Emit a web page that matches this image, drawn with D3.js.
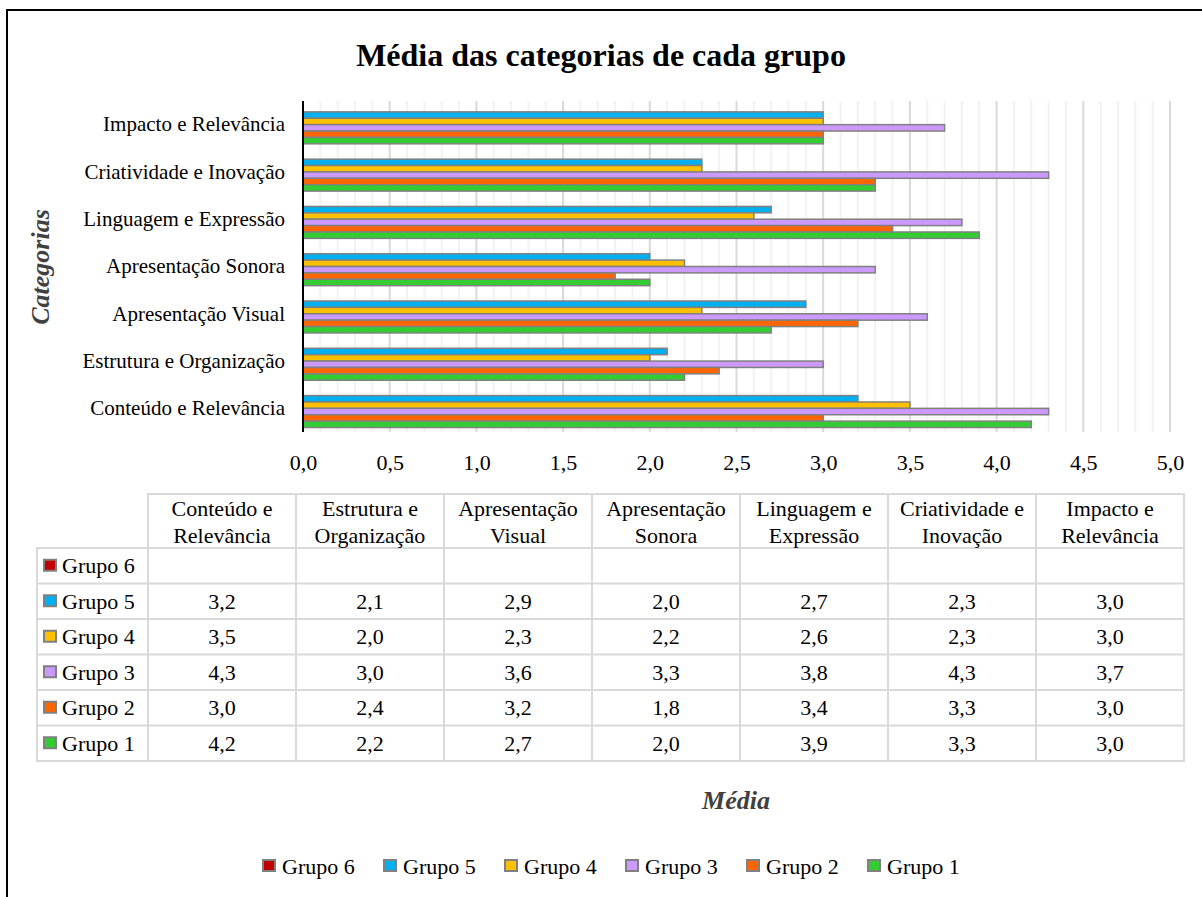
<!DOCTYPE html>
<html>
<head>
<meta charset="utf-8">
<script src="https://cdn.jsdelivr.net/npm/d3@7"></script>
<style>
    body { margin: 0; background: #fff; }
    svg text { font-family: "Liberation Serif", "Times New Roman", serif; fill: #000; }
</style>
</head>
<body>
<div id="chart"></div>
<script>
const categories = ["Conteúdo e Relevância", "Estrutura e Organização", "Apresentação Visual",
    "Apresentação Sonora", "Linguagem e Expressão", "Criatividade e Inovação", "Impacto e Relevância"];
const headerLines = [["Conteúdo e", "Relevância"], ["Estrutura e", "Organização"], ["Apresentação", "Visual"],
    ["Apresentação", "Sonora"], ["Linguagem e", "Expressão"], ["Criatividade e", "Inovação"], ["Impacto e", "Relevância"]];
const groups = ["Grupo 6", "Grupo 5", "Grupo 4", "Grupo 3", "Grupo 2", "Grupo 1"];
const grupo6 = [null, null, null, null, null, null, null];
const grupo5 = [3.2, 2.1, 2.9, 2.0, 2.7, 2.3, 3.0];
const grupo4 = [3.5, 2.0, 2.3, 2.2, 2.6, 2.3, 3.0];
const grupo3 = [4.3, 3.0, 3.6, 3.3, 3.8, 4.3, 3.7];
const grupo2 = [3.0, 2.4, 3.2, 1.8, 3.4, 3.3, 3.0];
const grupo1 = [4.2, 2.2, 2.7, 2.0, 3.9, 3.3, 3.0];
const xTicks = [0, 0.5, 1, 1.5, 2, 2.5, 3, 3.5, 4, 4.5, 5];

const groupValues = [grupo6, grupo5, grupo4, grupo3, grupo2, grupo1];
const groupColors = ["#C00000", "#00B0F0", "#FFC000", "#CC99FF", "#FF6600", "#33CC33"];

class BarChart {

    plot = { top: 101, bottom: 432, left: 303, right: 1170 }

    constructor(width = 1202, height = 897) {
        this.width = width;
        this.height = height;
    }

    initialize(divChartId) {
        this.div = d3.select(divChartId);
        this.fmt = d3.formatLocale({ decimal: ",", thousands: ".", grouping: [3], currency: ["", ""] }).format(".1f");
    }

    update() {
        const svg = this.div
            .html("")
            .append("svg")
            .attr("width", this.width)
            .attr("height", this.height);

        const p = this.plot;

        const x = d3.scaleLinear()
            .domain([0, 5])
            .range([p.left, p.right]);

        const y0 = d3.scaleBand()
            .domain(categories.slice().reverse())
            .range([p.top, p.bottom]);

        const y1 = d3.scaleBand()
            .domain(groups)
            .range([0, y0.bandwidth()])
            .paddingOuter(0.7);

        const color = d3.scaleOrdinal()
            .domain(groups)
            .range(groupColors);

        // moldura
        svg.append("path")
            .attr("d", `M7,${this.height} V10 H${this.width}`)
            .attr("fill", "none")
            .attr("stroke", "#000")
            .attr("stroke-width", 2);

        svg.append("text")
            .attr("x", 601)
            .attr("y", 66)
            .attr("text-anchor", "middle")
            .attr("font-size", 32)
            .attr("font-weight", "bold")
            .text("Média das categorias de cada grupo");

        // grade secundária e principal
        const minor = d3.range(0, 51).map(d => d / 10);
        svg.append("g")
            .selectAll("line")
            .data(minor)
            .enter().append("line")
            .attr("x1", d => x(d)).attr("x2", d => x(d))
            .attr("y1", p.top).attr("y2", p.bottom)
            .attr("stroke", (d, i) => i % 5 === 0 ? "#d9d9d9" : "#f2f2f2")
            .attr("stroke-width", 2);

        const bars = svg.append("g");
        bars.selectAll("g")
            .data(groups)
            .enter()
            .append("g")
            .selectAll("rect")
            .data((g, gi) => groupValues[gi].map((v, ci) => ({ group: g, cat: categories[ci], value: v }))
                .filter(d => d.value !== null))
            .enter().append("rect")
            .attr("x", x(0))
            .attr("y", d => y0(d.cat) + y1(d.group))
            .attr("width", d => x(d.value) - x(0))
            .attr("height", y1.bandwidth())
            .attr("fill", d => color(d.group))
            .attr("stroke", "#808080")
            .attr("stroke-width", 1.5);

        svg.append("line")
            .attr("x1", p.left).attr("x2", p.left)
            .attr("y1", p.top).attr("y2", p.bottom)
            .attr("stroke", "#000")
            .attr("stroke-width", 2);

        // rótulos das categorias
        const yAxis = svg.append("g")
            .attr("transform", `translate(${p.left - 18},0)`)
            .call(d3.axisLeft(y0).tickSize(0).tickPadding(0));
        yAxis.select(".domain").remove();
        yAxis.selectAll("text")
            .attr("font-size", 21)
            .attr("font-family", "Liberation Serif")
            .attr("fill", "#000");

        const xAxis = svg.append("g")
            .attr("transform", `translate(0,${p.bottom})`)
            .call(d3.axisBottom(x).tickValues(xTicks).tickSize(0).tickPadding(22).tickFormat(this.fmt));
        xAxis.select(".domain").remove();
        xAxis.selectAll("text")
            .attr("font-size", 22)
            .attr("font-family", "Liberation Serif")
            .attr("fill", "#000");

        svg.append("text")
            .attr("transform", "translate(49,267) rotate(-90)")
            .attr("text-anchor", "middle")
            .attr("font-size", 26)
            .attr("font-weight", "bold")
            .attr("font-style", "italic")
            .style("fill", "#404040")
            .text("Categorias");

        // tabela de dados
        const colW = 148, tLeft = 148, labelLeft = 37;
        const headTop = 494, rowTop = 548, rowH = 35.5;
        const table = svg.append("g");
        const grid = "#d9d9d9";

        table.append("rect")
            .attr("x", tLeft).attr("y", headTop)
            .attr("width", colW * categories.length).attr("height", rowTop - headTop)
            .attr("fill", "none").attr("stroke", grid).attr("stroke-width", 2);
        table.append("rect")
            .attr("x", labelLeft).attr("y", rowTop)
            .attr("width", tLeft + colW * categories.length - labelLeft).attr("height", rowH * groups.length)
            .attr("fill", "none").attr("stroke", grid).attr("stroke-width", 2);
        table.selectAll(".vline")
            .data(d3.range(0, categories.length))
            .enter().append("line")
            .attr("x1", i => tLeft + i * colW).attr("x2", i => tLeft + i * colW)
            .attr("y1", headTop).attr("y2", rowTop + rowH * groups.length)
            .attr("stroke", grid).attr("stroke-width", 2);
        table.selectAll(".hline")
            .data(d3.range(1, groups.length))
            .enter().append("line")
            .attr("x1", labelLeft).attr("x2", tLeft + colW * categories.length)
            .attr("y1", i => rowTop + i * rowH).attr("y2", i => rowTop + i * rowH)
            .attr("stroke", grid).attr("stroke-width", 2);

        headerLines.forEach((lines, i) => {
            lines.forEach((t, j) => {
                table.append("text")
                    .attr("x", tLeft + i * colW + colW / 2)
                    .attr("y", headTop + 22 + j * 27)
                    .attr("text-anchor", "middle")
                    .attr("font-size", 22)
                    .text(t);
            });
        });

        groups.forEach((g, gi) => {
            const cy = rowTop + gi * rowH + rowH / 2;
            table.append("rect")
                .attr("x", 44).attr("y", cy - 6)
                .attr("width", 12).attr("height", 11)
                .attr("fill", color(g))
                .attr("stroke", "#808080").attr("stroke-width", 2);
            table.append("text")
                .attr("x", 62).attr("y", cy)
                .attr("dy", "0.35em")
                .attr("font-size", 22)
                .text(g);
            groupValues[gi].forEach((v, ci) => {
                if (v === null) return;
                table.append("text")
                    .attr("x", tLeft + ci * colW + colW / 2)
                    .attr("y", cy)
                    .attr("dy", "0.35em")
                    .attr("text-anchor", "middle")
                    .attr("font-size", 22)
                    .text(this.fmt(v));
            });
        });

        svg.append("text")
            .attr("x", 736)
            .attr("y", 809)
            .attr("text-anchor", "middle")
            .attr("font-size", 26)
            .attr("font-weight", "bold")
            .attr("font-style", "italic")
            .style("fill", "#404040")
            .text("Média");

        // legenda
        const legend = svg.append("g")
            .attr("transform", "translate(262,859)");
        const item = legend.selectAll("g")
            .data(groups)
            .enter().append("g")
            .attr("transform", (d, i) => `translate(${i * 121},0)`);
        item.append("rect")
            .attr("x", 1).attr("y", 1)
            .attr("width", 12).attr("height", 11)
            .attr("fill", d => color(d))
            .attr("stroke", "#808080").attr("stroke-width", 2);
        item.append("text")
            .attr("x", 20).attr("y", 7)
            .attr("dy", "0.35em")
            .attr("font-size", 22)
            .text(d => d);
    }
}

const chart = new BarChart();
chart.initialize("#chart");
chart.update();
</script>
</body>
</html>
